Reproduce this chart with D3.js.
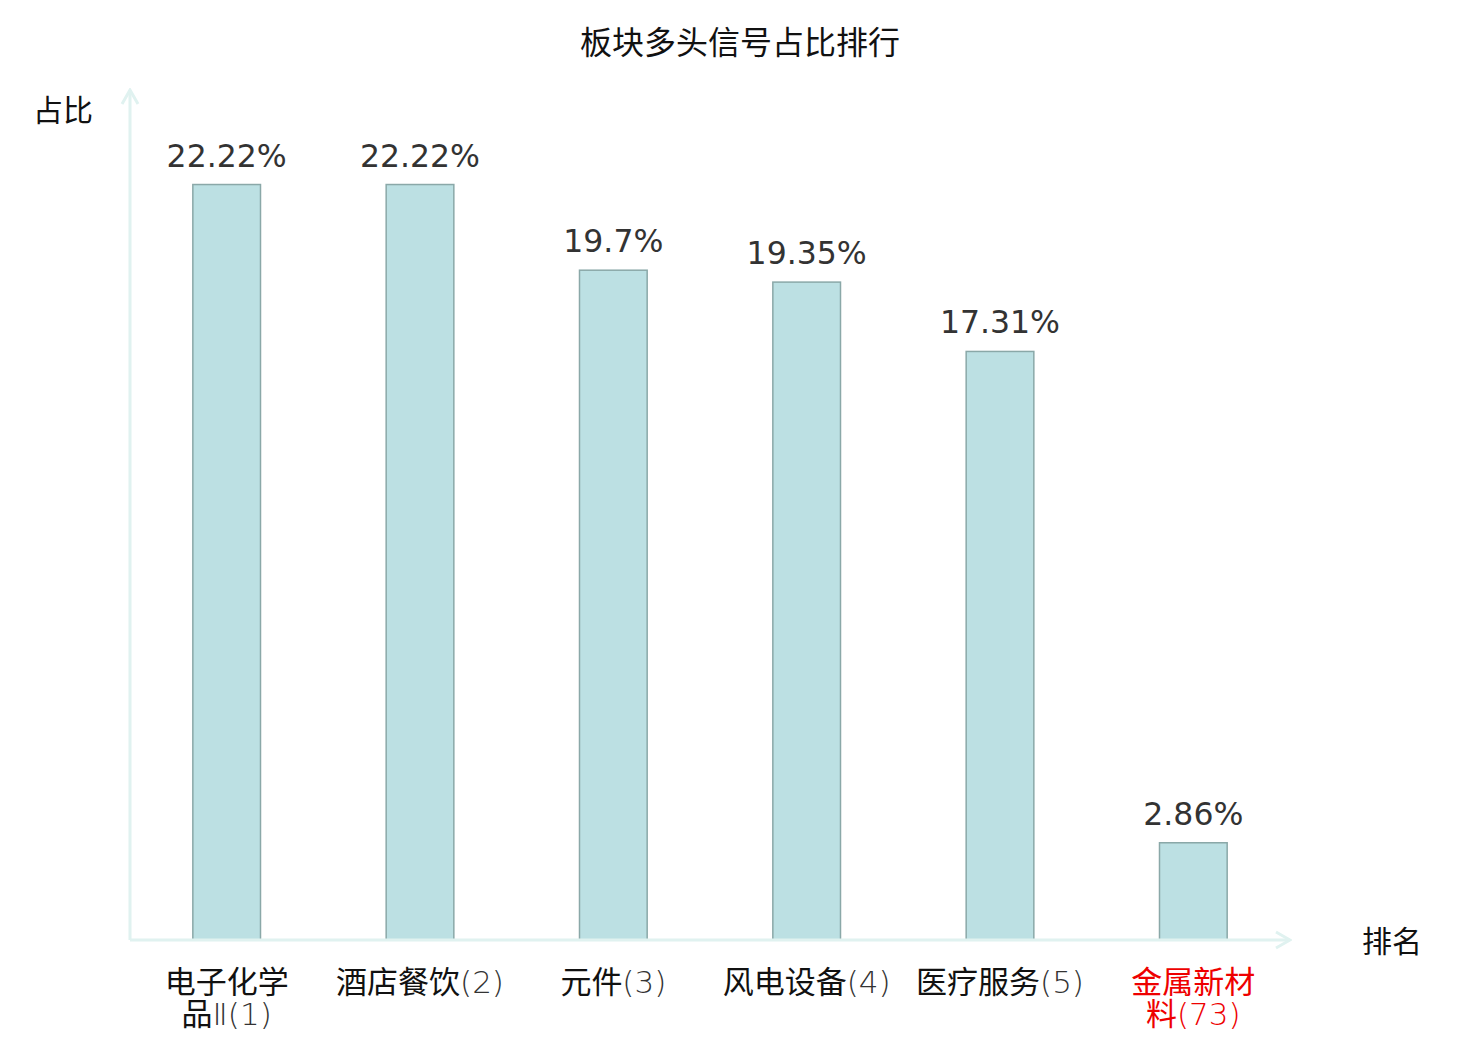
<!DOCTYPE html>
<meta charset="utf-8">
<style>
  body { margin: 0; background: #fff; }
</style>
<body>
<svg id="chart"></svg>
<script src="https://cdn.jsdelivr.net/npm/d3@7"></script>
<script>
// data
var names = ["电子化学品Ⅱ", "酒店餐饮", "元件", "风电设备", "医疗服务", "金属新材料"];
var ranks = [1, 2, 3, 4, 5, 73];
var shares = [22.22, 22.22, 19.7, 19.35, 17.31, 2.86];
var highlight = "金属新材料";

var W = 1480, H = 1040;
var x0 = 130, x1 = 1290, yBase = 940, yTop = 90;
var axisColor = "#e0f2f0";
var cjk = "'Noto Sans CJK SC', sans-serif";
var latin = "'DejaVu Sans', 'Noto Sans CJK SC', sans-serif";

var svg = d3.select("#chart").attr("width", W).attr("height", H);

var x = d3.scaleBand().domain(names).range([x0, x1]).paddingInner(0.65).paddingOuter(0.325);
var y = d3.scaleLinear().domain([0, 25]).range([yBase, yTop]);

// title
svg.append("text")
  .attr("x", 740).attr("y", 54)
  .attr("text-anchor", "middle")
  .style("font-family", cjk)
  .style("font-size", "32px")
  .attr("fill", "#111")
  .text("板块多头信号占比排行");

// bars
svg.selectAll("rect.bar")
  .data(names)
  .enter().append("rect")
  .attr("class", "bar")
  .attr("x", function (d) { return x(d); })
  .attr("y", function (d, i) { return y(shares[i]); })
  .attr("width", x.bandwidth())
  .attr("height", function (d, i) { return yBase - y(shares[i]); })
  .attr("fill", "#bce0e3")
  .attr("stroke", "#8aa8a8")
  .attr("stroke-width", 1.5);

// value labels
svg.selectAll("text.val")
  .data(names)
  .enter().append("text")
  .attr("class", "val")
  .attr("x", function (d) { return x(d) + x.bandwidth() / 2; })
  .attr("y", function (d, i) { return y(shares[i]) - 18; })
  .attr("text-anchor", "middle")
  .style("font-family", latin)
  .style("font-size", "31.5px")
  .attr("fill", "#333")
  .text(function (d, i) { return shares[i] + "%"; });

// axes with arrows
var defs = svg.append("defs");
defs.append("marker")
  .attr("id", "arr")
  .attr("viewBox", "0 0 20 20")
  .attr("refX", 18).attr("refY", 10)
  .attr("markerWidth", 20).attr("markerHeight", 20)
  .attr("markerUnits", "userSpaceOnUse")
  .attr("orient", "auto")
  .append("path")
  .attr("d", "M4,2 L18,10 L4,18")
  .attr("fill", "none")
  .attr("stroke", axisColor)
  .attr("stroke-width", 3);

svg.append("line")
  .attr("x1", x0).attr("y1", yBase).attr("x2", x0).attr("y2", yTop)
  .attr("stroke", axisColor).attr("stroke-width", 3)
  .attr("marker-end", "url(#arr)");

svg.append("line")
  .attr("x1", x0).attr("y1", yBase).attr("x2", x1).attr("y2", yBase)
  .attr("stroke", axisColor).attr("stroke-width", 3)
  .attr("marker-end", "url(#arr)");

// axis names
svg.append("text")
  .attr("x", 93).attr("y", 121)
  .attr("text-anchor", "end")
  .style("font-family", cjk)
  .style("font-size", "30px")
  .attr("fill", "#111")
  .text("占比");

svg.append("text")
  .attr("x", 1362).attr("y", 952)
  .style("font-family", cjk)
  .style("font-size", "30px")
  .attr("fill", "#111")
  .text("排名");

// category labels, wrapped after 4 chars when too long for the band
var cats = svg.selectAll("g.cat")
  .data(names)
  .enter().append("g")
  .attr("class", "cat")
  .attr("transform", function (d) { return "translate(" + (x(d) + x.bandwidth() / 2) + ",993)"; });

cats.each(function (d, i) {
  var g = d3.select(this);
  var full = d + "(" + ranks[i] + ")";
  var lines = d.length > 4 ? [full.slice(0, 4), full.slice(4)] : [full];
  var color = d === highlight ? "#e00" : "#111";
  lines.forEach(function (ln, k) {
    var t = g.append("text")
      .attr("y", k * 32)
      .attr("text-anchor", "middle")
      .style("font-size", "31px")
      .attr("fill", color);
    // CJK part in regular weight, the rest (Ⅱ, rank) thin
    var m = ln.match(/^([\u4e00-\u9fff]*)(.*)$/);
    if (m[1]) t.append("tspan").style("font-family", cjk).text(m[1]);
    if (m[2]) {
      t.append("tspan")
        .style("font-family", latin)
        .style("font-weight", 200)
        .attr("fill", d === highlight ? "#e00" : "#333")
        .text(m[2]);
    }
  });
});
</script>
</body>
